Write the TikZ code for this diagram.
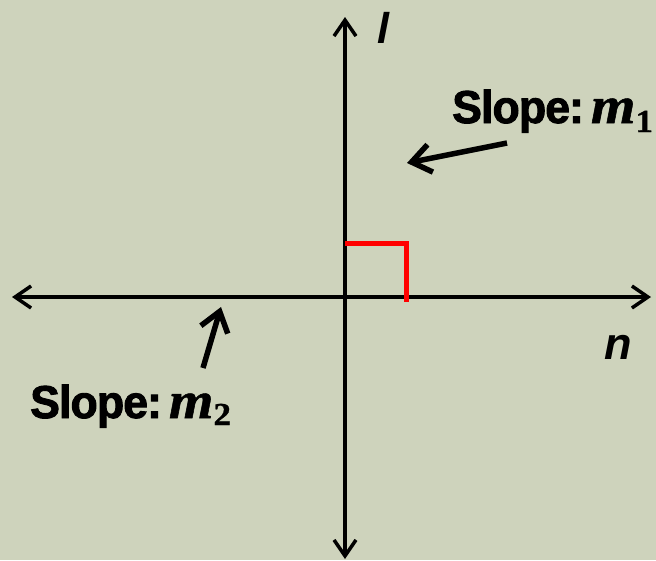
\documentclass[tikz,border=0pt]{standalone}
\usepackage{fontspec}
\setmainfont{Liberation Sans}
\newfontfamily\mfont[FakeStretch=1.1, FakeBold=1]{Liberation Serif}
\newfontfamily\slopefont[FakeStretch=0.97, LetterSpace=-2, FakeBold=2]{Liberation Sans}
\usetikzlibrary{arrows.meta}
\definecolor{bg}{RGB}{206,211,188}
\begin{document}
\begin{tikzpicture}[x=1pt,y=-1pt,
  axis/.style={line width=3.5pt, {Straight Barb[length=16pt,width=22pt]}-{Straight Barb[length=16pt,width=22pt]}},
  pointer/.style={line width=5.5pt, -{Straight Barb[length=19pt,width=28pt]}},
  lbl/.style={inner sep=0pt, anchor=base west, font=\fontsize{45}{45}\selectfont\bfseries},
  rightangle/.style={red, line width=5pt, miter limit=10}]
\fill[bg] (0,0) rectangle (656,560);
\useasboundingbox (0,0) rectangle (656,560);
% axes
\coordinate (top) at (345,17);
\coordinate (bottom) at (345,559);
\coordinate (left) at (12,297);
\coordinate (right) at (651,297);
\draw[axis] (bottom) -- (top);
\draw[axis] (left) -- (right);
% right angle mark
\coordinate (ra1) at (345,243);
\coordinate (ra2) at (406,243);
\coordinate (ra3) at (406,302);
\draw[rightangle] (ra1) -- (ra2) -- (ra3);
% labels
\node[lbl, font=\fontsize{43}{43}\selectfont\bfseries\itshape] (l) at (377,43) {l};
\node[lbl, font=\fontsize{45}{45}\selectfont\bfseries\itshape] (n) at (604,359) {n};
\node[lbl] (s1) at (452,123) {{\slopefont\fontsize{46}{46}\selectfont\bfseries Slope:}\hspace{7pt}{\mfont\fontsize{52}{52}\selectfont\bfseries\itshape m}\raisebox{-9pt}{\mfont\fontsize{32}{32}\selectfont\bfseries\upshape 1}};
\node[lbl] (s2) at (30,418) {{\slopefont\fontsize{46}{46}\selectfont\bfseries Slope:}\hspace{7pt}{\mfont\fontsize{52}{52}\selectfont\bfseries\itshape m}\raisebox{-7pt}{\mfont\fontsize{32}{32}\selectfont\bfseries\upshape 2}};
% pointers
\coordinate (p1s) at (507,143);
\coordinate (p1e) at (407,163);
\coordinate (p2s) at (203,368);
\coordinate (p2e) at (221,307);
\draw[pointer] (p1s) -- (p1e);
\draw[pointer] (p2s) -- (p2e);
\end{tikzpicture}
\end{document}
